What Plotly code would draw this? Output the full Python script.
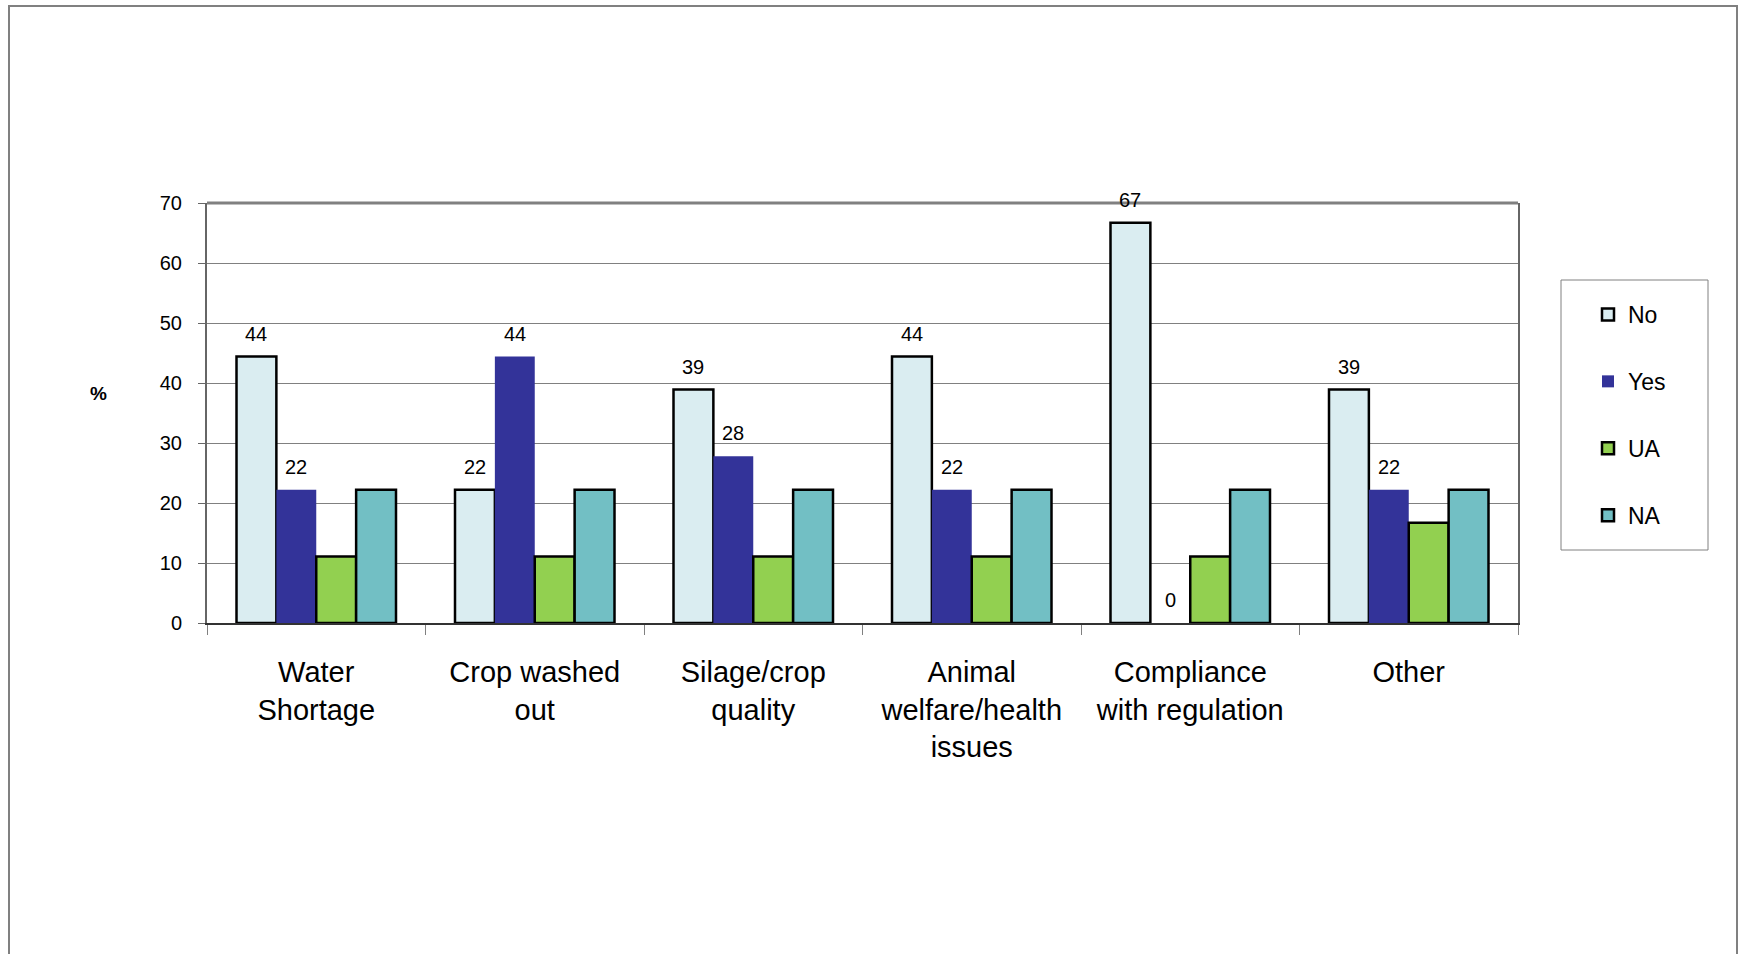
import plotly.graph_objects as go

categories = ["Water<br>Shortage", "Crop washed<br>out", "Silage/crop<br>quality",
              "Animal<br>welfare/health<br>issues", "Compliance<br>with regulation", "Other"]
series_names = ["No", "Yes", "UA", "NA"]
no_vals = [44.4, 22.2, 38.9, 44.4, 66.7, 38.9]
yes_vals = [22.2, 44.4, 27.8, 22.2, 0.0, 22.2]
ua_vals = [11.1, 11.1, 11.1, 11.1, 11.1, 16.7]
na_vals = [22.2, 22.2, 22.2, 22.2, 22.2, 22.2]
labelled = {"No": True, "Yes": True, "UA": False, "NA": False}
y_ticks = [0, 10, 20, 30, 40, 50, 60, 70]

colors = {"No": "#DAEDF1", "Yes": "#333399", "UA": "#92D050", "NA": "#72BFC4"}
outline = {"No": 2.5, "Yes": 0, "UA": 2.5, "NA": 2.5}
values = {"No": no_vals, "Yes": yes_vals, "UA": ua_vals, "NA": na_vals}

W, H = 1741, 954
ML, MR, MT, MB = 207, 223, 203, 331
plot_w = W - ML - MR
plot_h = H - MT - MB
BARGAP = 0.27
FONT = "Arial, Liberation Sans, sans-serif"

fig = go.Figure()
for name in series_names:
    fig.add_trace(go.Bar(
        name=name, x=categories, y=values[name],
        marker=dict(color=colors[name], line=dict(color="black", width=outline[name])),
        legendgroup=name,
    ))

# data labels above No / Yes bars
cat_px = plot_w / len(categories)
bw = cat_px * (1 - BARGAP) / len(series_names)
annotations = []
for i, name in enumerate(series_names):
    if not labelled[name]:
        continue
    for c, v in zip(categories, values[name]):
        annotations.append(dict(
            x=c, y=v, xref="x", yref="y", text=str(round(v)), showarrow=False,
            xshift=(i - (len(series_names) - 1) / 2) * bw, yshift=23, yanchor="middle",
            font=dict(family=FONT, size=20, color="black")))

annotations.append(dict(x=(88 - ML) / plot_w, y=(MT + plot_h - 393) / plot_h, xref="paper", yref="paper",
                        text="<b>%</b>", showarrow=False, font=dict(family=FONT, size=19, color="black")))

shapes = [
    # legend frame
    dict(type="rect", xref="paper", yref="paper",
         x0=(1561 - ML) / plot_w, x1=(1708 - ML) / plot_w,
         y0=(MT + plot_h - 550) / plot_h, y1=(MT + plot_h - 280) / plot_h,
         line=dict(color="#808080", width=1)),
    # outer frame
    dict(type="rect", xref="paper", yref="paper",
         x0=(9 - ML) / plot_w, x1=(1737 - ML) / plot_w,
         y0=(MT + plot_h - 970) / plot_h, y1=(MT + plot_h - 6) / plot_h,
         line=dict(color="#808080", width=2)),
    # top border of plot area
    dict(type="line", xref="paper", yref="paper", x0=0, x1=1, y0=1, y1=1,
         line=dict(color="#808080", width=3)),
]

fig.update_layout(
    width=W, height=H, autosize=False,
    margin=dict(l=ML, r=MR, t=MT, b=MB),
    paper_bgcolor="white", plot_bgcolor="white",
    barmode="group", bargap=BARGAP, bargroupgap=0,
    font=dict(family=FONT, color="black"),
    showlegend=True,
    legend=dict(x=(1588 - ML) / plot_w, xanchor="left", y=(MT + plot_h - 293) / plot_h, yanchor="top",
                font=dict(family=FONT, size=23, color="black"), tracegroupgap=34,
                bgcolor="rgba(0,0,0,0)", borderwidth=0, traceorder="grouped"),
    annotations=annotations,
    shapes=shapes,
)
fig.update_xaxes(
    showline=True, linecolor="#333333", linewidth=2, mirror=False,
    ticks="outside", tickson="boundaries", ticklen=10, tickcolor="#808080",
    tickfont=dict(family=FONT, size=29, color="black"), ticklabelstandoff=22,
    showgrid=False,
)
fig.update_yaxes(
    range=[0, 70], tickvals=y_ticks, showline=True, linecolor="#666666", linewidth=2, mirror=True,
    ticks="outside", ticklen=7, tickcolor="#666666",
    tickfont=dict(family=FONT, size=20, color="black"), ticklabelstandoff=12,
    showgrid=True, gridcolor="#808080", gridwidth=1, zeroline=False,
)
fig.write_html("out.html")
